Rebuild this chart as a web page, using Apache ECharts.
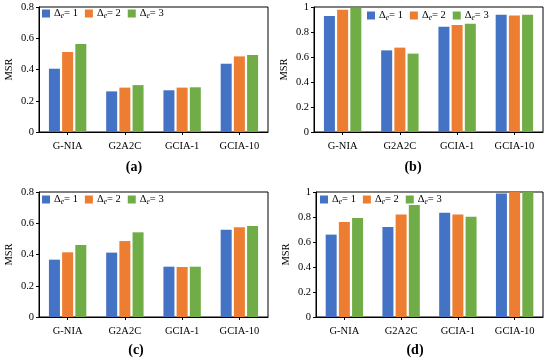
<!DOCTYPE html>
<html><head><meta charset="utf-8">
<script src="https://cdn.jsdelivr.net/npm/echarts@6/dist/echarts.min.js"></script>
<style>html,body{margin:0;padding:0;background:#fff}#c{width:550px;height:358px}</style>
</head><body><div id="c"></div>
<script>
const categories = ['G-NIA', 'G2A2C', 'GCIA-1', 'GCIA-10'];
const seriesNames = ['Δe= 1', 'Δe= 2', 'Δe= 3'];
const panelLabels = ['(a)', '(b)', '(c)', '(d)'];
const yMax = [0.8, 1, 0.8, 1];
// panel (a)
const a_d1 = [0.405, 0.260, 0.267, 0.437];
const a_d2 = [0.512, 0.284, 0.284, 0.484];
const a_d3 = [0.563, 0.300, 0.286, 0.493];
// panel (b)
const b_d1 = [0.928, 0.653, 0.843, 0.939];
const b_d2 = [0.979, 0.675, 0.856, 0.933];
const b_d3 = [0.995, 0.627, 0.867, 0.939];
// panel (c)
const c_d1 = [0.367, 0.412, 0.322, 0.559];
const c_d2 = [0.414, 0.486, 0.320, 0.574];
const c_d3 = [0.461, 0.542, 0.322, 0.582];
// panel (d)
const d_d1 = [0.659, 0.720, 0.835, 0.989];
const d_d2 = [0.760, 0.821, 0.821, 1.000];
const d_d3 = [0.792, 0.896, 0.803, 1.000];

const panels = [[a_d1, a_d2, a_d3], [b_d1, b_d2, b_d3], [c_d1, c_d2, c_d3], [d_d1, d_d2, d_d3]];
const colors = ['#4472C4', '#ED7D31', '#70AD47'];
const FONT = 'Liberation Serif';

const grids = [
  {left: 39, top: 7, width: 229, height: 125},
  {left: 314, top: 7, width: 229, height: 125},
  {left: 39, top: 192, width: 229, height: 125},
  {left: 316, top: 192, width: 227, height: 125}
];
const legendPos = [{left: 42, top: 8}, {left: 367, top: 10}, {left: 42, top: 194}, {left: 320, top: 194}];
const titlePos = [{x: 134, y: 160}, {x: 413, y: 160}, {x: 136, y: 343}, {x: 415, y: 343}];

const option = {
  animation: false,
  color: colors,
  textStyle: {fontFamily: FONT},
  grid: grids.map(g => Object.assign({show: true, borderColor: '#000', borderWidth: 1, containLabel: false}, g)),
  xAxis: grids.map((g, i) => ({
    type: 'category', gridIndex: i, data: categories,
    axisLine: {lineStyle: {color: '#000', width: 1}},
    axisTick: {show: true, alignWithLabel: true, length: 3, lineStyle: {color: '#000'}},
    axisLabel: {color: '#000', fontFamily: FONT, fontSize: 10.5, margin: 9}
  })),
  yAxis: grids.map((g, i) => ({
    type: 'value', gridIndex: i, min: 0, max: yMax[i], interval: 0.2,
    name: 'MSR', nameLocation: 'middle', nameGap: 24, nameRotate: 90,
    nameTextStyle: {color: '#000', fontFamily: FONT, fontSize: 10.5},
    axisLine: {show: true, lineStyle: {color: '#000', width: 1}},
    axisTick: {show: true, length: 3, lineStyle: {color: '#000'}},
    splitLine: {show: false},
    axisLabel: {color: '#000', fontFamily: FONT, fontSize: 10.5, margin: 5}
  })),
  legend: grids.map((g, i) => Object.assign({
    data: seriesNames, orient: 'horizontal', itemWidth: 8, itemHeight: 8, itemGap: 7,
    icon: 'rect', padding: 0,
    formatter: n => '{d|Δ}{s|e}{t|' + n.slice(2) + '}',
    textStyle: {
      fontFamily: FONT, fontSize: 10.5, color: '#000', padding: [0, 0, 0, -1],
      rich: {
        d: {fontFamily: FONT, fontSize: 10.5, color: '#000'},
        s: {fontFamily: FONT, fontSize: 7.5, fontStyle: 'italic', color: '#000', padding: [5, 0, 0, 0]},
        t: {fontFamily: FONT, fontSize: 10.5, color: '#000'}
      }
    }
  }, legendPos[i])),
  title: titlePos.map((p, i) => ({
    text: panelLabels[i], left: p.x, top: p.y, textAlign: 'center', padding: 0,
    textStyle: {fontFamily: FONT, fontSize: 14, fontWeight: 'bold', color: '#000'}
  })),
  series: []
};
panels.forEach((p, i) => {
  p.forEach((vals, k) => {
    option.series.push({
      type: 'bar', name: seriesNames[k], xAxisIndex: i, yAxisIndex: i,
      data: vals, barWidth: 11, barGap: '20%',
      itemStyle: {color: colors[k]}
    });
  });
});
const chart = echarts.init(document.getElementById('c'), null, {renderer: 'canvas'});
chart.setOption(option);
</script></body></html>
